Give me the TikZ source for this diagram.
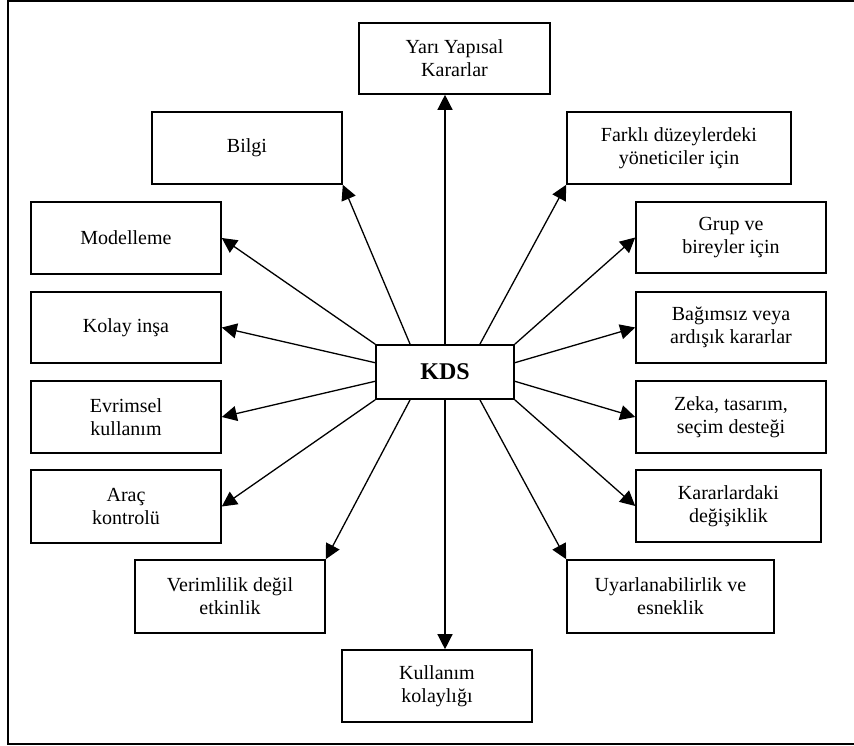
\documentclass[tikz,border=0pt]{standalone}
\usepackage{fontspec}
\setmainfont{Liberation Serif}
\usetikzlibrary{arrows.meta,calc}

\tikzset{
  box/.style={draw, line width=1.6pt, inner sep=2pt, align=center,
    font=\fontsize{20}{23}\selectfont, minimum width=190pt, minimum height=72pt},
  hub/.style={draw, line width=1.6pt, inner sep=0pt,
    font=\fontsize{24}{28}\selectfont\bfseries, minimum width=138pt, minimum height=54pt},
  link/.style={line width=1.3pt, -{Triangle[length=15pt,width=15pt]}},
  frame/.style={line width=2pt}
}

\begin{document}
\begin{tikzpicture}[x=1pt,y=-1pt]
\clip (0,0) rectangle (854,746);
\fill[white] (0,0) rectangle (854,746);
\draw[frame] (8,1.5) rectangle (880,744);

% central node
\node[hub] (kds) at (445,372) {KDS};

% surrounding nodes
\node[box, minimum width=191pt, minimum height=71pt] (yari) at (454.5,58.5) {Yarı Yapısal\\Kararlar};
\node[box] (bilgi) at (247,148) {Bilgi};
\node[box] (model) at (126,238) {Modelleme};
\node[box, minimum height=71pt] (kolay) at (126,327.5) {Kolay inşa};
\node[box] (evrim) at (126,417) {Evrimsel\\kullanım};
\node[box, minimum height=73pt] (arac) at (126,506.5) {Araç\\kontrolü};
\node[box, minimum height=73pt] (verim) at (230,596.5) {Verimlilik değil\\etkinlik};
\node[box] (kullan) at (437,686) {Kullanım\\kolaylığı};
\node[box, minimum width=224pt] (farkli) at (679,148) {Farklı düzeylerdeki\\yöneticiler için};
\node[box, minimum height=71pt] (grup) at (731,237.5) {Grup ve\\bireyler için};
\node[box, minimum height=71pt] (bagim) at (731,327.5) {Bağımsız veya\\ardışık kararlar};
\node[box] (zeka) at (731,417) {Zeka, tasarım,\\seçim desteği};
\node[box, minimum width=185pt] (karar) at (728.5,506) {Kararlardaki\\değişiklik};
\node[box, minimum width=207pt, minimum height=73pt] (uyar) at (670.5,596.5) {Uyarlanabilirlik ve\\esneklik};

% attachment points on the central node
\coordinate (nq1) at ($(kds.north west)!0.25!(kds.north east)$);
\coordinate (nq3) at ($(kds.north west)!0.75!(kds.north east)$);
\coordinate (sq1) at ($(kds.south west)!0.25!(kds.south east)$);
\coordinate (sq3) at ($(kds.south west)!0.75!(kds.south east)$);
\coordinate (w1) at ($(kds.north west)!0.3333!(kds.south west)$);
\coordinate (w2) at ($(kds.north west)!0.6667!(kds.south west)$);
\coordinate (e1) at ($(kds.north east)!0.3333!(kds.south east)$);
\coordinate (e2) at ($(kds.north east)!0.6667!(kds.south east)$);

% connectors
\draw[link] (kds.north) -- (kds.north |- yari.south);
\draw[link] (kds.south) -- (kds.south |- kullan.north);
\draw[link] (nq1) -- (bilgi.south east);
\draw[link] (kds.north west) -- (model.east);
\draw[link] (w1) -- (kolay.east);
\draw[link] (w2) -- (evrim.east);
\draw[link] (kds.south west) -- (arac.east);
\draw[link] (sq1) -- (verim.north east);
\draw[link] (nq3) -- (farkli.south west);
\draw[link] (kds.north east) -- (grup.west);
\draw[link] (e1) -- (bagim.west);
\draw[link] (e2) -- (zeka.west);
\draw[link] (kds.south east) -- (karar.west);
\draw[link] (sq3) -- (uyar.north west);
\end{tikzpicture}
\end{document}
